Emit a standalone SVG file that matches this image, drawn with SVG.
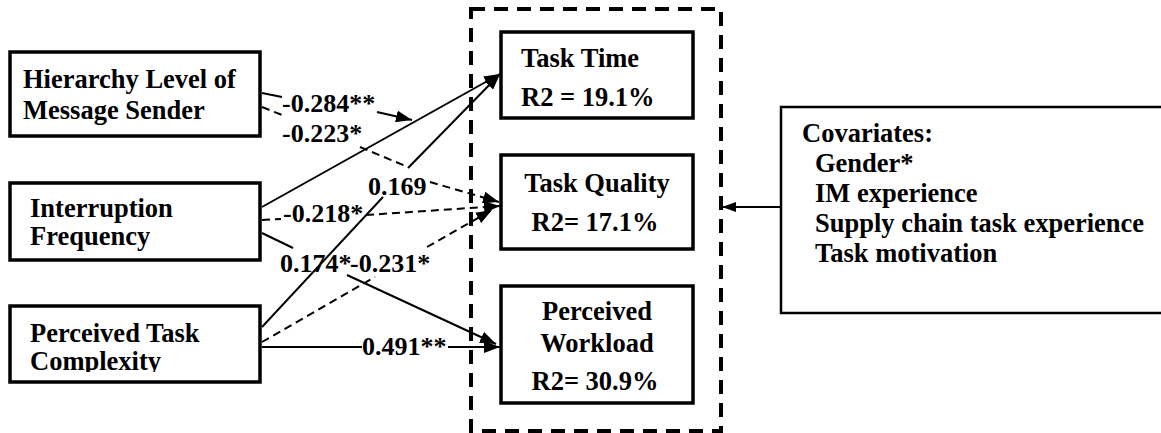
<svg xmlns="http://www.w3.org/2000/svg" width="1161" height="433" viewBox="0 0 1161 433">
<style>
text{font-family:"Liberation Serif","Times New Roman",serif;font-weight:bold;font-size:26.5px;fill:#000}
.lb{font-size:26px}
.box{fill:#fff;stroke:#000;stroke-width:3.5}
.cov{fill:#fff;stroke:#000;stroke-width:2.5}
.outer{fill:none;stroke:#000;stroke-width:4;stroke-dasharray:14 9}
.s{fill:none;stroke:#000;stroke-width:2}
.d{fill:none;stroke:#000;stroke-width:2;stroke-dasharray:8 5}
.m{text-anchor:middle}
</style>
<defs>
<marker id="ah" markerUnits="userSpaceOnUse" markerWidth="16" markerHeight="12" refX="16" refY="6" orient="auto">
<path d="M0,0 L16,6 L0,12 z" fill="#000"/>
</marker>
<marker id="ah2" markerUnits="userSpaceOnUse" markerWidth="14" markerHeight="10" refX="14" refY="5" orient="auto">
<path d="M0,0 L14,5 L0,10 z" fill="#000"/>
</marker>
<clipPath id="clipPTC"><rect x="0" y="300" width="270" height="72"/></clipPath>
</defs>

<rect class="outer" x="471" y="9" width="250" height="422"/>

<g id="connectors">
<path class="s" d="M262,93 L282,97"/>
<path class="s" d="M377,112 L412,120" marker-end="url(#ah)"/>
<path class="d" d="M262,107 L282,115"/>
<path class="d" d="M360,147 L408,167"/>
<path class="d" d="M430,182 L499,202" marker-end="url(#ah)"/>
<path class="s" d="M262,207 L500,74" marker-end="url(#ah)"/>
<path class="d" d="M262,220 L281,219"/>
<path class="d" d="M366,215 L500,206" marker-end="url(#ah)"/>
<path class="s" d="M262,233 L293,248"/>
<path class="s" d="M347,275 L496,344" marker-end="url(#ah)"/>
<path class="s" d="M262,327 L383,197"/>
<path class="s" d="M408,168 L500,74" marker-end="url(#ah)"/>
<path class="d" d="M262,342 L375,277"/>
<path class="d" d="M427,247 L492,210" marker-end="url(#ah)"/>
<path class="s" d="M262,347 L362,347"/>
<path class="s" d="M448,347 L500,347" marker-end="url(#ah)"/>
<path class="s" d="M781,207 L722,207" marker-end="url(#ah2)"/>
</g>

<g id="labels">
<text class="lb" x="282" y="112">-0.284**</text>
<text class="lb" x="282" y="142">-0.223*</text>
<text class="lb" x="368" y="195">0.169</text>
<text class="lb" x="283" y="222">-0.218*</text>
<text class="lb" x="280" y="272">0.174*</text>
<text class="lb" x="350" y="272">-0.231*</text>
<text class="lb" x="362" y="355">0.491**</text>
</g>

<g id="node-hierarchy">
<rect class="box" x="10" y="52" width="250" height="84"/>
<text x="23" y="88">Hierarchy Level of</text>
<text x="23" y="119">Message Sender</text>
</g>

<g id="node-interruption">
<rect class="box" x="10" y="183" width="250" height="77"/>
<text x="30" y="217">Interruption</text>
<text x="30" y="245">Frequency</text>
</g>

<g id="node-complexity">
<rect class="box" x="10" y="306" width="250" height="76"/>
<g clip-path="url(#clipPTC)">
<text x="30" y="342">Perceived Task</text>
<text x="30" y="370">Complexity</text>
</g>
</g>

<g id="node-tasktime">
<rect class="box" x="501" y="32" width="192" height="86"/>
<text x="521" y="67">Task Time</text>
<text x="521" y="106">R2 = 19.1%</text>
</g>

<g id="node-taskquality">
<rect class="box" x="501" y="155" width="192" height="94"/>
<text class="m" x="597" y="192">Task Quality</text>
<text class="m" x="595" y="231">R2= 17.1%</text>
</g>

<g id="node-workload">
<rect class="box" x="501" y="286" width="192" height="117"/>
<text class="m" x="597" y="320">Perceived</text>
<text class="m" x="597" y="352">Workload</text>
<text class="m" x="595" y="390">R2= 30.9%</text>
</g>

<g id="node-covariates">
<rect class="cov" x="781" y="107" width="400" height="206"/>
<text x="802" y="142">Covariates:</text>
<text x="815" y="172">Gender*</text>
<text x="815" y="202">IM experience</text>
<text x="815" y="232">Supply chain task experience</text>
<text x="815" y="262">Task motivation</text>
</g>
</svg>
